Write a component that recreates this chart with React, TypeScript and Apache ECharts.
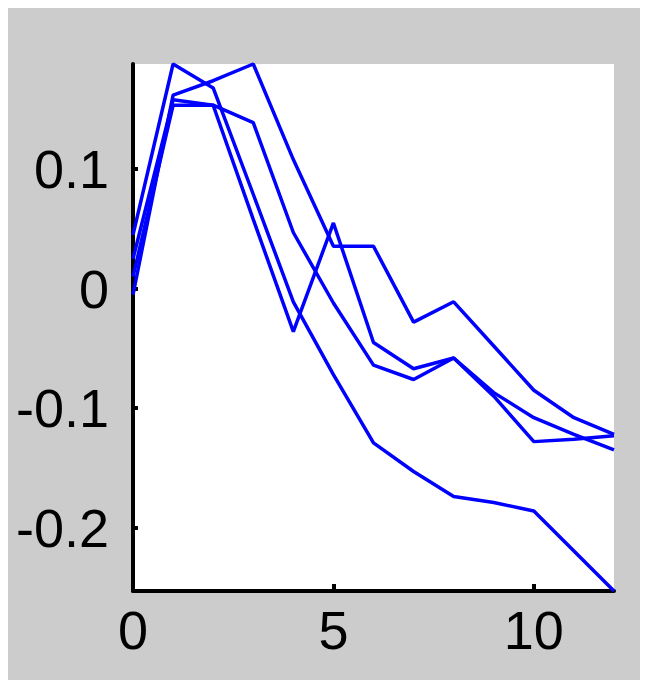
import React, { useEffect, useRef } from "react";
import * as echarts from "echarts";

const xValues = [0, 1, 2, 3, 4, 5, 6, 7, 8, 9, 10, 11, 12];
const seriesA = [-0.005, 0.162, 0.174, 0.188, 0.108, 0.0355, 0.0355, -0.028, -0.011, -0.048, -0.085, -0.108, -0.122];
const seriesB = [0.045, 0.188, 0.168, 0.079, -0.011, -0.072, -0.129, -0.153, -0.174, -0.179, -0.186, -0.2195, -0.253];
const seriesC = [0.025, 0.158, 0.1535, 0.058, -0.036, 0.055, -0.045, -0.067, -0.058, -0.09, -0.128, -0.126, -0.123];
const seriesD = [0.01, 0.1535, 0.1535, 0.139, 0.047, -0.012, -0.064, -0.076, -0.058, -0.087, -0.108, -0.122, -0.135];
const yTicks = [-0.2, -0.1, 0, 0.1];
const xTicks = [0, 5, 10];

const FONT = "'Liberation Sans', Arial, sans-serif";

export default function App() {
  const ref = useRef<HTMLDivElement>(null);
  useEffect(() => {
    document.documentElement.style.overflow = "hidden";
    const chart = echarts.init(ref.current!, null, { renderer: "svg" });
    const all = [seriesA, seriesB, seriesC, seriesD];
    chart.setOption({
      animation: false,
      backgroundColor: "#cccccc",
      grid: {
        left: 125,
        right: 34,
        top: 56,
        bottom: 89,
        show: true,
        backgroundColor: "#ffffff",
        borderWidth: 0,
      },
      xAxis: {
        type: "value",
        min: 0,
        max: 12,
        axisLine: { show: true, onZero: false, lineStyle: { color: "#000", width: 4 } },
        axisTick: { show: true, inside: true, length: 7, customValues: xTicks, lineStyle: { color: "#000", width: 4 } },
        axisLabel: {
          customValues: xTicks,
          color: "#000",
          fontSize: 54,
          fontFamily: FONT,
          margin: 12,
          formatter: (v: number) => String(Math.round(v)),
        },
        splitLine: { show: false },
      },
      yAxis: {
        type: "value",
        min: -0.253,
        max: 0.188,
        axisLine: { show: true, onZero: false, lineStyle: { color: "#000", width: 4 } },
        axisTick: { show: true, inside: true, length: 5, customValues: yTicks, lineStyle: { color: "#000", width: 4 } },
        axisLabel: {
          customValues: yTicks,
          color: "#000",
          fontSize: 54,
          fontFamily: FONT,
          margin: 24,
          formatter: (v: number) => String(Math.round(v * 10) / 10),
        },
        splitLine: { show: false },
      },
      series: all.map((s) => ({
        type: "line",
        symbol: "none",
        data: xValues.map((x, i) => [x, s[i]]),
        lineStyle: { color: "#0000ff", width: 3.5 },
        itemStyle: { color: "#0000ff" },
        clip: false,
      })),
    });
    return () => chart.dispose();
  }, []);
  return <div ref={ref} style={{ width: 640, height: 672 }} />;
}
